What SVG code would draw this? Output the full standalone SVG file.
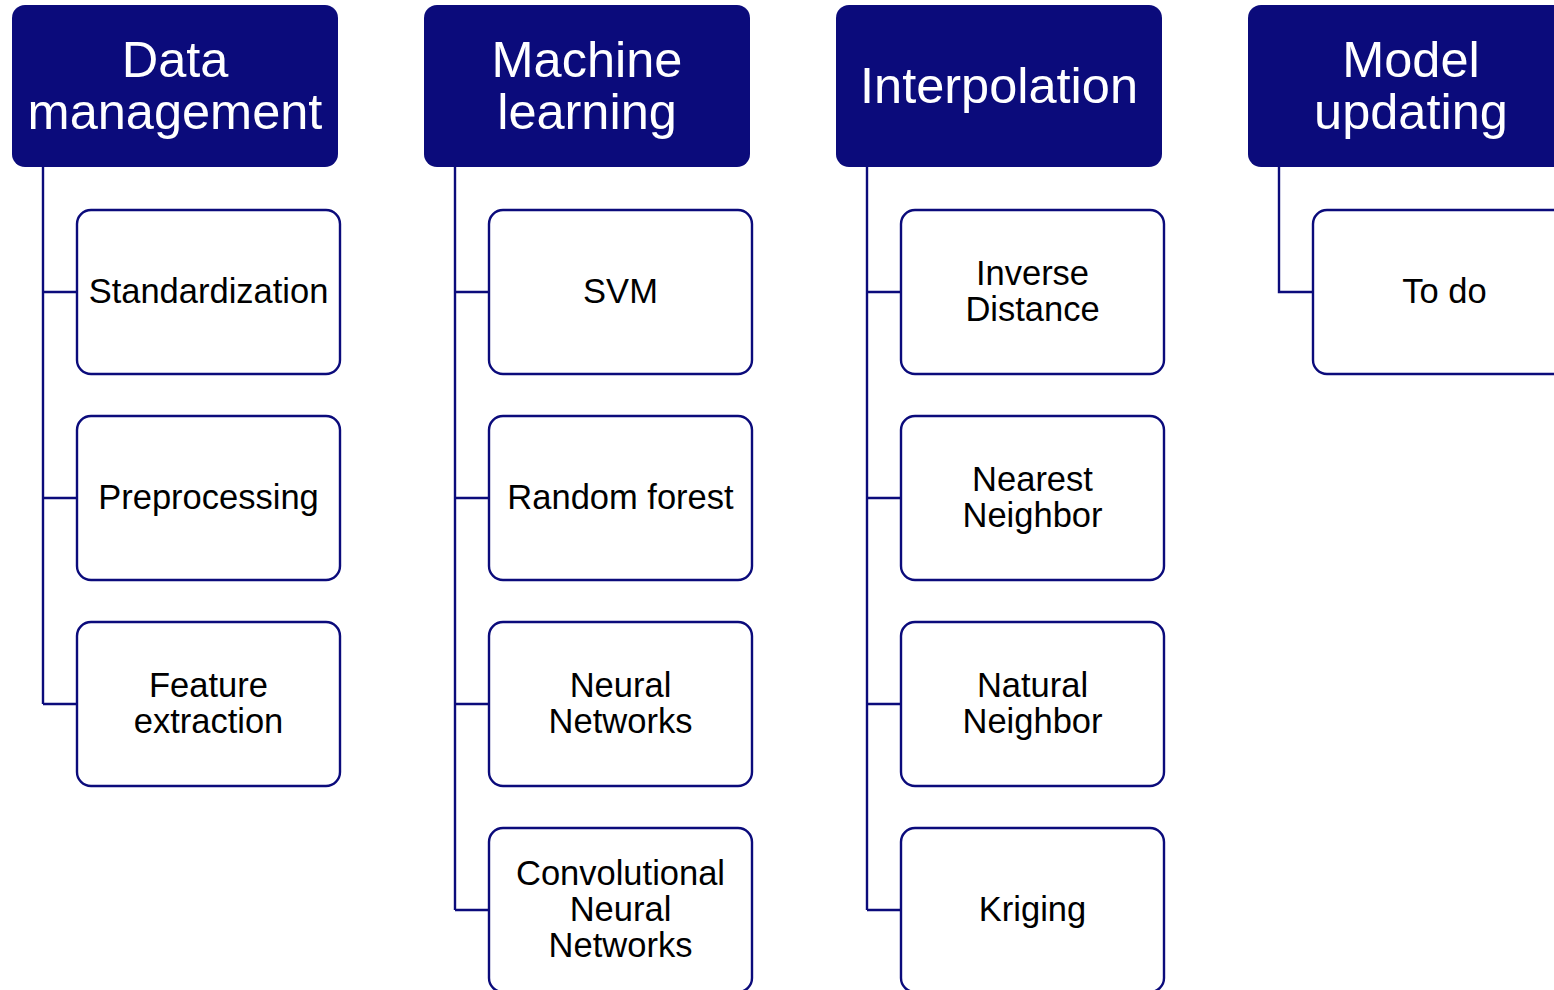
<svg xmlns="http://www.w3.org/2000/svg" width="1554" height="990" viewBox="0 0 1554 990">
  <style>
    .head rect { fill: #0b0b7b; }
    .head text { fill: #ffffff; font-family: "Liberation Sans", Arial, sans-serif; font-size: 50.5px; text-anchor: middle; }
    .item rect { fill: #ffffff; stroke: #0b0b7b; stroke-width: 2.4; }
    .item text { fill: #000000; font-family: "Liberation Sans", Arial, sans-serif; font-size: 34.5px; text-anchor: middle; }
    .links path { fill: none; stroke: #0b0b7b; stroke-width: 2.4; }
  </style>
  <rect width="1554" height="990" fill="#ffffff"/>

  <!-- tree connectors -->
  <g id="connectors" class="links">
    <path d="M43 167 V704 M43 292 H77 M43 498 H77 M43 704 H77"/>
    <path d="M455 167 V910 M455 292 H489 M455 498 H489 M455 704 H489 M455 910 H489"/>
    <path d="M867 167 V910 M867 292 H901 M867 498 H901 M867 704 H901 M867 910 H901"/>
    <path d="M1279 167 V292 H1313"/>
  </g>

  <!-- column headers -->
  <g id="data-management" class="head">
    <rect x="12" y="5" width="326" height="162" rx="13"/>
    <text x="175" y="77">Data</text>
    <text x="175" y="129">management</text>
  </g>
  <g id="machine-learning" class="head">
    <rect x="424" y="5" width="326" height="162" rx="13"/>
    <text x="587" y="77">Machine</text>
    <text x="587" y="129">learning</text>
  </g>
  <g id="interpolation" class="head">
    <rect x="836" y="5" width="326" height="162" rx="13"/>
    <text x="999" y="103">Interpolation</text>
  </g>
  <g id="model-updating" class="head">
    <rect x="1248" y="5" width="326" height="162" rx="13"/>
    <text x="1411" y="77">Model</text>
    <text x="1411" y="129">updating</text>
  </g>

  <!-- data management items -->
  <g id="standardization" class="item">
    <rect x="77" y="210" width="263" height="164" rx="14"/>
    <text x="208.5" y="303">Standardization</text>
  </g>
  <g id="preprocessing" class="item">
    <rect x="77" y="416" width="263" height="164" rx="14"/>
    <text x="208.5" y="509">Preprocessing</text>
  </g>
  <g id="feature-extraction" class="item">
    <rect x="77" y="622" width="263" height="164" rx="14"/>
    <text x="208.5" y="697">Feature</text>
    <text x="208.5" y="733">extraction</text>
  </g>

  <!-- machine learning items -->
  <g id="svm" class="item">
    <rect x="489" y="210" width="263" height="164" rx="14"/>
    <text x="620.5" y="303">SVM</text>
  </g>
  <g id="random-forest" class="item">
    <rect x="489" y="416" width="263" height="164" rx="14"/>
    <text x="620.5" y="509">Random forest</text>
  </g>
  <g id="neural-networks" class="item">
    <rect x="489" y="622" width="263" height="164" rx="14"/>
    <text x="620.5" y="697">Neural</text>
    <text x="620.5" y="733">Networks</text>
  </g>
  <g id="cnn" class="item">
    <rect x="489" y="828" width="263" height="164" rx="14"/>
    <text x="620.5" y="885">Convolutional</text>
    <text x="620.5" y="921">Neural</text>
    <text x="620.5" y="957">Networks</text>
  </g>

  <!-- interpolation items -->
  <g id="inverse-distance" class="item">
    <rect x="901" y="210" width="263" height="164" rx="14"/>
    <text x="1032.5" y="285">Inverse</text>
    <text x="1032.5" y="321">Distance</text>
  </g>
  <g id="nearest-neighbor" class="item">
    <rect x="901" y="416" width="263" height="164" rx="14"/>
    <text x="1032.5" y="491">Nearest</text>
    <text x="1032.5" y="527">Neighbor</text>
  </g>
  <g id="natural-neighbor" class="item">
    <rect x="901" y="622" width="263" height="164" rx="14"/>
    <text x="1032.5" y="697">Natural</text>
    <text x="1032.5" y="733">Neighbor</text>
  </g>
  <g id="kriging" class="item">
    <rect x="901" y="828" width="263" height="164" rx="14"/>
    <text x="1032.5" y="921">Kriging</text>
  </g>

  <!-- model updating items -->
  <g id="to-do" class="item">
    <rect x="1313" y="210" width="263" height="164" rx="14"/>
    <text x="1444.5" y="303">To do</text>
  </g>
</svg>
